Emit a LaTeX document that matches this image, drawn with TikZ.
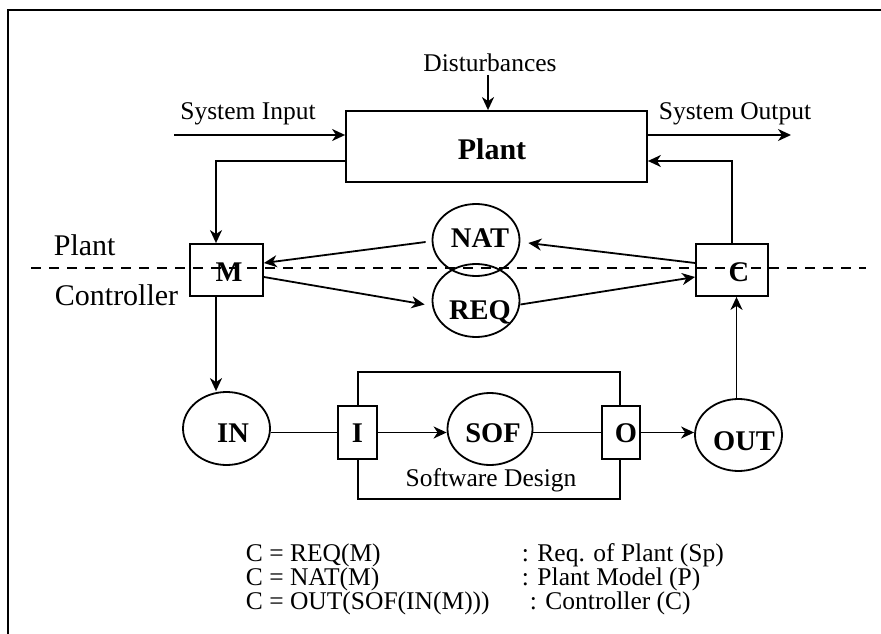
\documentclass[tikz,border=0pt]{standalone}
\usepackage{fontspec}
\setmainfont{Liberation Serif}
\usetikzlibrary{shapes.geometric,arrows.meta,calc}

\begin{document}
\begin{tikzpicture}[x=1pt,y=-1pt,
  line width=1.8pt,
  arr/.style={-{Stealth[length=13pt,width=12pt,inset=4pt]}},
  blk/.style={draw,fill=white,inner sep=0pt},
  ell/.style={draw,ellipse,inner sep=0pt,minimum width=87pt,minimum height=72pt},
  lbl/.style={inner sep=0pt,anchor=base,font=\fontsize{28.5}{30}\selectfont\bfseries},
  txt/.style={inner sep=0pt,anchor=base,font=\fontsize{25.5}{27}\selectfont},
  side/.style={inner sep=0pt,anchor=base west,font=\fontsize{30}{32}\selectfont},
  eq/.style={inner sep=0pt,anchor=base west,font=\fontsize{25.5}{27}\selectfont},
  divider/.style={line width=2.7pt,dash pattern=on 10pt off 8pt}]

\useasboundingbox (0,0) rectangle (881,634);

% outer frame
\draw[line width=2pt] (8,634) -- (8,10) -- (881,10);

% plant block and its signals
\node[blk,minimum width=301pt,minimum height=71pt] (plant) at (496.5,146.5) {};
\node[lbl,font=\fontsize{30}{32}\selectfont\bfseries] (plantname) at (492,159) {Plant};
\node[txt] (dist) at (490,72) {Disturbances};
\node[txt] (sysinlbl) at (248,119) {System Input};
\node[txt] (sysoutlbl) at (735,119) {System Output};
\coordinate (distin) at (488,75);
\coordinate (sysin) at (174,135);
\coordinate (sysout) at (791,135);
\draw[arr] (distin) -- (distin |- plant.north);
\draw[arr] (sysin) -- (sysin -| plant.west);
\draw[arr] (sysout -| plant.east) -- (sysout);

% monitored / controlled variables
\node[blk,minimum width=73pt,minimum height=52pt] (m) at (226.5,270) {};
\node[blk,minimum width=72pt,minimum height=52pt] (c) at (732,270) {};
\node[lbl] (mname) at (229,281) {M};
\node[lbl] (cname) at (739,281) {C};

% NAT and REQ relations
\node[ell] (nat) at (476,240) {};
\node[ell,minimum height=73pt] (req) at (476,300.5) {};
\node[lbl] (natname) at (480,247) {NAT};
\node[lbl] (reqname) at (480,319) {REQ};

% software design
\node[draw,inner sep=0pt,minimum width=262pt,minimum height=127pt] (sd) at (489,435.5) {};
\node[txt] (sdname) at (491,486) {Software Design};
\node[blk,minimum width=39pt,minimum height=53pt] (i) at (357.5,432.5) {};
\node[blk,minimum width=38pt,minimum height=53pt] (o) at (621,432.5) {};
\node[lbl] (iname) at (357.5,442) {I};
\node[lbl] (oname) at (626,442) {O};
\node[ell,minimum width=85pt] (sof) at (490,429) {};
\node[lbl] (sofname) at (493,442) {SOF};
\node[ell,minimum height=73pt] (in) at (226.5,428.5) {};
\node[lbl] (inname) at (233,442) {IN};
\node[ell] (out) at (738.5,435) {};
\node[lbl] (outname) at (744,450) {OUT};

% feedback loop around the plant
\draw[arr] ($(plant.west)+(0,14.5)$) -| ($(m.north)+(-10.5,0)$);
\draw[arr] (c.north) |- ($(plant.east)+(0,14.5)$);

% relations between M and C
\draw[arr] ($(c.west)+(0,-7)$) -- ($(nat.east)+(8,3)$);
\draw[arr] ($(nat.west)+(-6,2)$) -- ($(m.east)+(0,-7)$);
\draw[arr] ($(m.east)+(0,7)$) -- ($(req.west)+(-7,4)$);
\draw[arr] ($(req.east)+(0,4)$) -- ($(c.west)+(0,7)$);

% controller path
\coordinate (mx) at ($(m.south)+(-10.5,0)$);
\coordinate (outtop) at ($(out.north)+(-2,0)$);
\draw[arr] (mx) -- (mx |- in.north);
\draw (in.east |- i.west) -- (i.west);
\draw[arr] (i.east) -- (i.east -| sof.west);
\draw (sof.east |- o.west) -- (o.west);
\draw[arr] (o.east) -- (o.east -| out.west);
\draw[arr] (outtop) -- (outtop |- c.south);

% plant / controller boundary
\node[side] (plantside) at (53,255) {Plant};
\node[side] (ctrlside) at (54,305) {Controller};
\draw[divider] (31,268) -- (866,268);

% relations
\node[eq] (eq1) at (245,561) {C = REQ(M)};
\node[eq] (eq2) at (245,585) {C = NAT(M)};
\node[eq] (eq3) at (245,609) {C = OUT(SOF(IN(M)))};
\node[eq] (d1) at (521,561) {: Req. of Plant (Sp)};
\node[eq] (d2) at (521,585) {: Plant Model (P)};
\node[eq] (d3) at (529,609) {: Controller (C)};
\end{tikzpicture}
\end{document}
